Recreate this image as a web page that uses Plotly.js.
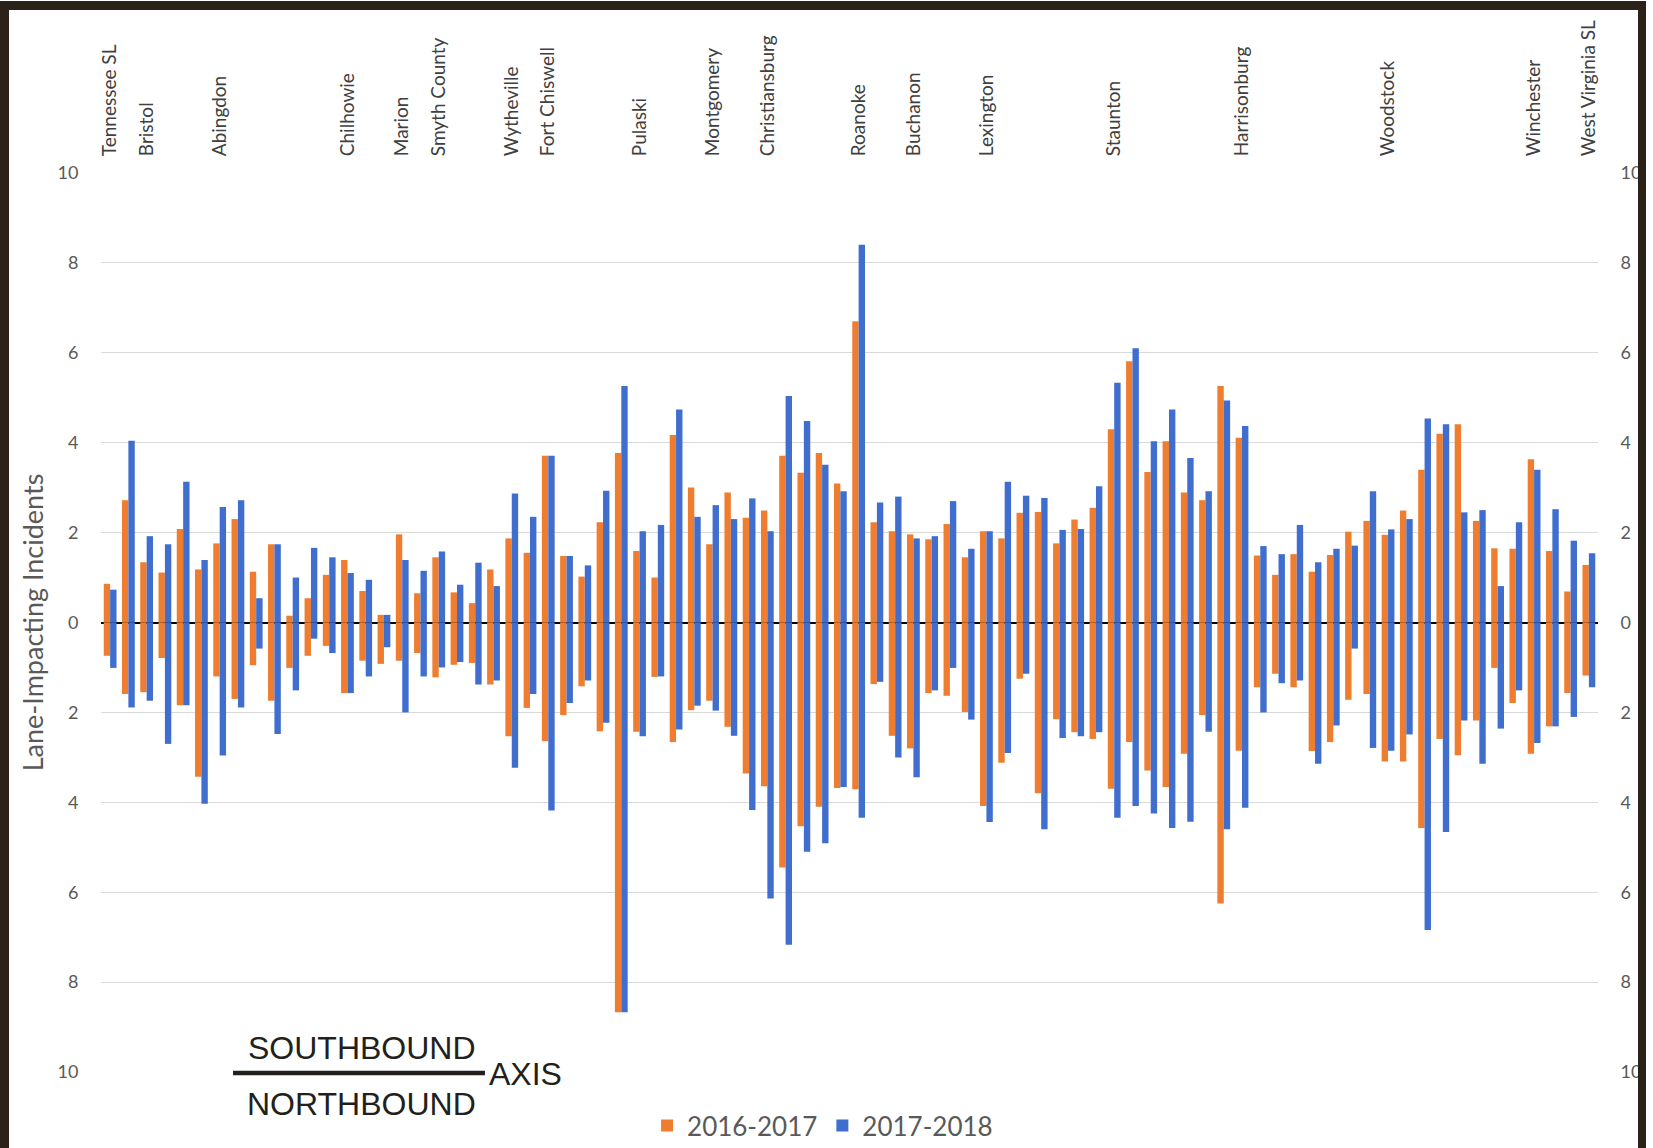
<!DOCTYPE html>
<html><head><meta charset="utf-8">
<script src="https://cdn.plot.ly/plotly-3.0.1.min.js"></script>
<style>
html,body{margin:0;padding:0;background:#fff;overflow:hidden;width:1653px;height:1148px;}
#chart{position:absolute;left:0;top:0;width:1653px;height:1148px;}
#frame{position:absolute;left:0;top:1px;width:1629px;height:1200px;border-left:9px solid #2b2219;border-top:9px solid #2b2219;border-right:8px solid #2b2219;pointer-events:none;}
</style></head><body>
<div id="chart"></div><div id="frame"></div>
<script>
// Southbound (drawn above zero) and northbound (drawn below zero) lane-impacting incidents per segment
const SB16 = [0.86,2.72,1.34,1.11,2.08,1.18,1.76,2.30,1.13,1.74,0.15,0.54,1.06,1.39,0.70,0.17,1.96,0.65,1.45,0.67,
  0.43,1.18,1.87,1.55,3.71,1.48,1.02,2.23,3.77,1.59,1.00,4.17,3.00,1.74,2.89,2.33,2.49,3.71,3.33,3.77,
  3.09,6.70,2.23,2.03,1.96,1.85,2.19,1.45,2.03,1.87,2.44,2.46,1.76,2.29,2.55,4.30,5.81,3.35,4.03,2.89,
  2.72,5.26,4.11,1.49,1.06,1.52,1.13,1.50,2.02,2.26,1.95,2.49,3.40,4.20,4.41,2.26,1.65,1.64,3.63,1.59,
  0.69,1.28];
const SB17 = [0.73,4.04,1.92,1.74,3.13,1.39,2.57,2.72,0.54,1.74,1.00,1.66,1.45,1.10,0.95,0.17,1.39,1.15,1.58,0.84,
  1.33,0.81,2.87,2.35,3.71,1.48,1.27,2.93,5.26,2.03,2.17,4.74,2.35,2.61,2.30,2.76,2.03,5.04,4.48,3.51,
  2.92,8.40,2.67,2.80,1.87,1.92,2.70,1.64,2.03,3.13,2.82,2.77,2.06,2.08,3.03,5.33,6.10,4.03,4.74,3.66,
  2.92,4.94,4.37,1.70,1.52,2.17,1.34,1.64,1.71,2.92,2.07,2.30,4.54,4.41,2.45,2.50,0.81,2.23,3.40,2.52,
  1.82,1.54];
const NB16 = [0.74,1.59,1.55,0.79,1.84,3.43,1.20,1.70,0.95,1.74,1.01,0.74,0.52,1.57,0.85,0.92,0.85,0.68,1.22,0.94,
  0.90,1.38,2.53,1.90,2.64,2.06,1.42,2.42,8.67,2.43,1.21,2.66,1.95,1.74,2.32,3.36,3.64,5.45,4.53,4.10,
  3.68,3.71,1.37,2.52,2.80,1.57,1.63,1.99,4.08,3.12,1.25,3.80,2.15,2.44,2.59,3.70,2.66,3.29,3.66,2.92,
  2.06,6.25,2.85,1.44,1.14,1.44,2.86,2.66,1.72,1.59,3.09,3.09,4.57,2.59,2.95,2.18,1.01,1.79,2.92,2.31,
  1.57,1.18];
const NB17 = [1.01,1.89,1.74,2.70,1.84,4.03,2.96,1.89,0.58,2.48,1.51,0.36,0.68,1.57,1.20,0.55,2.00,1.20,1.00,0.88,
  1.38,1.29,3.23,1.59,4.18,1.79,1.29,2.23,8.67,2.53,1.20,2.38,1.85,1.96,2.52,4.17,6.14,7.17,5.10,4.91,
  3.66,4.34,1.32,3.00,3.44,1.51,1.01,2.16,4.44,2.90,1.14,4.60,2.57,2.53,2.44,4.34,4.08,4.25,4.57,4.43,
  2.43,4.60,4.12,2.00,1.35,1.29,3.14,2.29,0.58,2.79,2.85,2.49,6.84,4.66,2.18,3.14,2.36,1.51,2.68,2.31,
  2.10,1.44];
// Location labels and the segment they sit on
const labelSegments = [1,3,7,14,17,19,23,25,30,34,37,42,45,49,56,63,71,79,82];
const labelNames = ['Tennessee SL','Bristol','Abingdon','Chilhowie','Marion','Smyth County','Wytheville',
  'Fort Chiswell','Pulaski','Montgomery','Christiansburg','Roanoke','Buchanon','Lexington','Staunton',
  'Harrisonburg','Woodstock','Winchester','West Virginia SL'];
const yTickVals = [-10,-8,-6,-4,-2,0,2,4,6,8,10];
const yTickText = ['10','8','6','4','2','0','2','4','6','8','10'];
const seriesNames = ['2016-2017','2017-2018'];

const segment = SB16.map((_, i) => i + 1);
const ORANGE = '#EE7D2F', BLUE = '#3F6ECF';
const neg = a => a.map(v => -v);

const traces = [
  {type:'bar', name:seriesNames[0], x:segment, y:SB16, marker:{color:ORANGE}, offsetgroup:'o', legendgroup:'o'},
  {type:'bar', name:seriesNames[1], x:segment, y:SB17, marker:{color:BLUE}, offsetgroup:'b', legendgroup:'b'},
  {type:'bar', name:seriesNames[0], x:segment, y:neg(NB16), marker:{color:ORANGE}, offsetgroup:'o', legendgroup:'o', showlegend:false},
  {type:'bar', name:seriesNames[1], x:segment, y:neg(NB17), marker:{color:BLUE}, offsetgroup:'b', legendgroup:'b', showlegend:false},
  {type:'scatter', x:[segment[0]], y:[0], yaxis:'y2', mode:'markers', marker:{opacity:0}, showlegend:false, hoverinfo:'skip'}
];

const tickFont = {family:'Lato, sans-serif', size:18, color:'#595959'};
const annFont = {family:'Liberation Sans, Arial, sans-serif', size:32, color:'#231f1c'};

const layout = {
  width:1653, height:1148,
  margin:{l:101, r:55, t:172, b:75, autoexpand:false},
  paper_bgcolor:'rgba(0,0,0,0)', plot_bgcolor:'rgba(0,0,0,0)',
  barmode:'group', bargap:0.3, bargroupgap:0,
  showlegend:true,
  legend:{orientation:'h', x:0.482, xanchor:'center', y:-0.0585, yanchor:'middle',
    font:{family:'Lato, sans-serif', size:26, color:'#595959'}, traceorder:'normal'},
  xaxis:{side:'top', range:[0.5, 82.5], tickmode:'array', tickvals:labelSegments, ticktext:labelNames,
    tickangle:-90, showgrid:false, zeroline:false, showline:false,
    ticks:'outside', ticklen:11, tickcolor:'rgba(0,0,0,0)',
    tickfont:{family:'Lato, sans-serif', size:19, color:'#404040'}, automargin:false},
  yaxis:{range:[-10.02, 10.02], tickmode:'array', tickvals:yTickVals, ticktext:yTickText,
    showgrid:true, gridcolor:'#d9d9d9', gridwidth:1.3,
    zeroline:true, zerolinecolor:'#000', zerolinewidth:2.2, showline:false,
    ticks:'outside', ticklen:18, tickcolor:'rgba(0,0,0,0)', tickfont:tickFont, automargin:false,
    title:{text:'Lane-Impacting Incidents', font:{family:'Lato, sans-serif', size:27, color:'#595959'}, standoff:6}},
  yaxis2:{overlaying:'y', side:'right', range:[-10.02, 10.02], tickmode:'array', tickvals:yTickVals, ticktext:yTickText,
    showgrid:false, zeroline:false, showline:false,
    ticks:'outside', ticklen:18, tickcolor:'rgba(0,0,0,0)', tickfont:tickFont, automargin:false},
  shapes:[{type:'line', xref:'paper', yref:'paper', x0:0.0882, x1:0.2565, y0:0, y1:0,
    line:{color:'#231f1c', width:4.5}}],
  annotations:[
    {xref:'paper', yref:'paper', x:0.1743, y:0.0277, xanchor:'center', yanchor:'middle', text:'SOUTHBOUND', showarrow:false, font:annFont},
    {xref:'paper', yref:'paper', x:0.1743, y:-0.0344, xanchor:'center', yanchor:'middle', text:'NORTHBOUND', showarrow:false, font:annFont},
    {xref:'paper', yref:'paper', x:0.2578, y:-0.001, xanchor:'left', yanchor:'middle', text:'AXIS', showarrow:false, font:annFont}
  ]
};

Plotly.newPlot('chart', traces, layout, {displayModeBar:false, responsive:false});
</script></body></html>
